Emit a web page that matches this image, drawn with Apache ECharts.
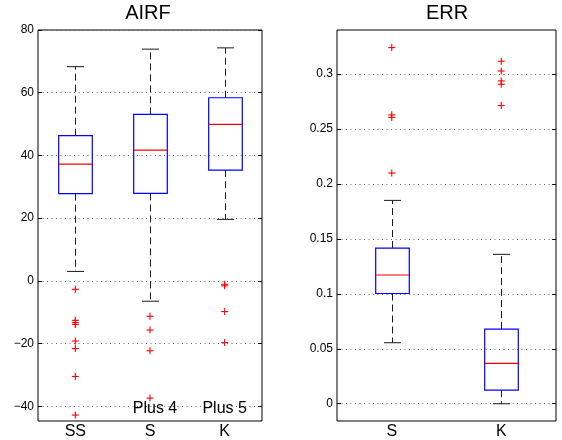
<!DOCTYPE html>
<html>
<head>
<meta charset="utf-8">
<script src="https://cdn.jsdelivr.net/npm/echarts@6/dist/echarts.min.js"></script>
<style>
  html, body { margin: 0; padding: 0; background: #fff; }
  #chart { width: 562px; height: 440px; }
</style>
</head>
<body>
<div id="chart"></div>
<script>
// AIRF panel: box statistics per group
const airfCategories = ['SS', 'S', 'K'];
const airfLowerWhisker = [3.0, -6.5, 19.6];
const airfQ1 = [27.8, 27.9, 35.3];
const airfMedian = [37.2, 41.7, 49.9];
const airfQ3 = [46.3, 53.1, 58.4];
const airfUpperWhisker = [68.3, 73.9, 74.3];
const airfOutliersSS = [-2.7, -12.6, -13.3, -13.9, -19.2, -21.6, -30.5, -42.8];
const airfOutliersS = [-11.3, -15.7, -22.3, -37.4];
const airfOutliersK = [-1.1, -1.6, -9.8, -19.7];
const airfTicks = [-40, -20, 0, 20, 40, 60, 80];
const airfNotes = [['S', 'Plus 4', -40.6], ['K', 'Plus 5', -40.9]];

// ERR panel: box statistics per group
const errCategories = ['S', 'K'];
const errLowerWhisker = [0.0555, 0.0];
const errQ1 = [0.1003, 0.0124];
const errMedian = [0.1171, 0.0368];
const errQ3 = [0.1416, 0.0679];
const errUpperWhisker = [0.185, 0.1359];
const errOutliersS = [0.324, 0.2628, 0.2605, 0.2099];
const errOutliersK = [0.3116, 0.3027, 0.2937, 0.2906, 0.2713];
const errTicks = [0, 0.05, 0.1, 0.15, 0.2, 0.25, 0.3];

const panelTitles = ['AIRF', 'ERR'];

const FONT = "'Liberation Sans', Arial, Helvetica, sans-serif";
const BOX_HALF = 16.8;
const CAP_HALF = 8.5;

function boxRows(lo, q1, med, q3, hi) {
  return lo.map((v, i) => [i, v, q1[i], med[i], q3[i], hi[i]]);
}
function outlierRows(groups) {
  const rows = [];
  groups.forEach((vals, i) => vals.forEach(v => rows.push([i, v])));
  return rows;
}

function renderBox(params, api) {
  const i = api.value(0);
  const pLo = api.coord([i, api.value(1)]);
  const pQ1 = api.coord([i, api.value(2)]);
  const pMed = api.coord([i, api.value(3)]);
  const pQ3 = api.coord([i, api.value(4)]);
  const pHi = api.coord([i, api.value(5)]);
  const cx = Math.round(pLo[0]) + 0.5;
  const whisker = { stroke: '#1a1a1a', lineWidth: 1, lineDash: [7, 4] };
  const cap = { stroke: '#1a1a1a', lineWidth: 1 };
  return {
    type: 'group',
    children: [
      { type: 'line', shape: { x1: cx, y1: pQ3[1], x2: cx, y2: pHi[1] }, style: whisker },
      { type: 'line', shape: { x1: cx, y1: pQ1[1], x2: cx, y2: pLo[1] }, style: whisker },
      { type: 'line', shape: { x1: cx - CAP_HALF, y1: pHi[1], x2: cx + CAP_HALF, y2: pHi[1] }, style: cap },
      { type: 'line', shape: { x1: cx - CAP_HALF, y1: pLo[1], x2: cx + CAP_HALF, y2: pLo[1] }, style: cap },
      { type: 'rect', shape: { x: cx - BOX_HALF, y: pQ3[1], width: 2 * BOX_HALF, height: pQ1[1] - pQ3[1] },
        style: { fill: 'none', stroke: '#0000ff', lineWidth: 1.2 } },
      { type: 'line', shape: { x1: cx - BOX_HALF, y1: pMed[1], x2: cx + BOX_HALF, y2: pMed[1] },
        style: { stroke: '#ff0000', lineWidth: 1.2 } }
    ]
  };
}

function renderPlus(params, api) {
  const p = api.coord([api.value(0), api.value(1)]);
  const h = 3.5;
  const st = { stroke: '#ff0000', lineWidth: 1.1 };
  return {
    type: 'group',
    children: [
      { type: 'line', shape: { x1: p[0] - h, y1: p[1], x2: p[0] + h, y2: p[1] }, style: st },
      { type: 'line', shape: { x1: p[0], y1: p[1] - h, x2: p[0], y2: p[1] + h }, style: st }
    ]
  };
}

function renderNote(params, api) {
  const p = api.coord([api.value(0), api.value(2)]);
  const dx = params.dataIndex === 0 ? 5 : 0;
  return {
    type: 'text',
    x: p[0] + dx, y: p[1],
    style: { text: airfNotes[params.dataIndex][1], fill: '#000', font: '16px ' + FONT,
             align: 'center', verticalAlign: 'middle' }
  };
}

function minusFmt(v) {
  return String(v).replace('-', '\u2212');
}

function yAxes(gridIndex, min, max, ticks) {
  const base = {
    gridIndex, type: 'value', min, max,
    axisLine: { show: false },
    axisTick: { show: true, inside: true, length: 4, customValues: ticks,
                lineStyle: { color: '#000', width: 1 } }
  };
  return [
    Object.assign({}, base, {
      position: 'left',
      axisLabel: { customValues: ticks, formatter: minusFmt, color: '#000',
                   fontFamily: FONT, fontSize: 12, margin: 4 },
      splitLine: { show: true, lineStyle: { color: '#666', width: 1, type: [1, 3.5] } }
    }),
    Object.assign({}, base, {
      position: 'right',
      axisLabel: { show: false },
      splitLine: { show: false }
    })
  ];
}

function xAxis(gridIndex, cats) {
  return {
    gridIndex, type: 'category', data: cats, boundaryGap: true,
    axisLine: { show: false }, axisTick: { show: false },
    axisLabel: { color: '#000', fontFamily: FONT, fontSize: 16, margin: 3 },
    splitLine: { show: false }
  };
}

const chart = echarts.init(document.getElementById('chart'), null, { renderer: 'canvas' });

chart.setOption({
  animation: false,
  backgroundColor: '#fff',
  graphic: [
    { type: 'text', x: 148, y: 13,
      style: { text: panelTitles[0], font: '20px ' + FONT, fill: '#000',
               align: 'center', verticalAlign: 'middle' } },
    { type: 'text', x: 447, y: 13,
      style: { text: panelTitles[1], font: '20px ' + FONT, fill: '#000',
               align: 'center', verticalAlign: 'middle' } }
  ],
  grid: [
    { left: 38, right: 300, top: 30, bottom: 18, show: true, borderColor: '#000', borderWidth: 1,
      backgroundColor: 'transparent' },
    { left: 337, right: 6, top: 30, bottom: 18, show: true, borderColor: '#000', borderWidth: 1,
      backgroundColor: 'transparent' }
  ],
  xAxis: [xAxis(0, airfCategories), xAxis(1, errCategories)],
  yAxis: [].concat(yAxes(0, -44.7, 80, airfTicks), yAxes(1, -0.0157, 0.34, errTicks)),
  series: [
    { type: 'custom', name: 'AIRF boxes', xAxisIndex: 0, yAxisIndex: 0,
      renderItem: renderBox,
      data: boxRows(airfLowerWhisker, airfQ1, airfMedian, airfQ3, airfUpperWhisker) },
    { type: 'custom', name: 'AIRF outliers', xAxisIndex: 0, yAxisIndex: 0,
      renderItem: renderPlus,
      data: outlierRows([airfOutliersSS, airfOutliersS, airfOutliersK]) },
    { type: 'custom', name: 'AIRF notes', xAxisIndex: 0, yAxisIndex: 0,
      renderItem: renderNote,
      data: airfNotes.map(n => [airfCategories.indexOf(n[0]), n[1], n[2]]) },
    { type: 'custom', name: 'ERR boxes', xAxisIndex: 1, yAxisIndex: 2,
      renderItem: renderBox,
      data: boxRows(errLowerWhisker, errQ1, errMedian, errQ3, errUpperWhisker) },
    { type: 'custom', name: 'ERR outliers', xAxisIndex: 1, yAxisIndex: 2,
      renderItem: renderPlus,
      data: outlierRows([errOutliersS, errOutliersK]) }
  ]
});
</script>
</body>
</html>
